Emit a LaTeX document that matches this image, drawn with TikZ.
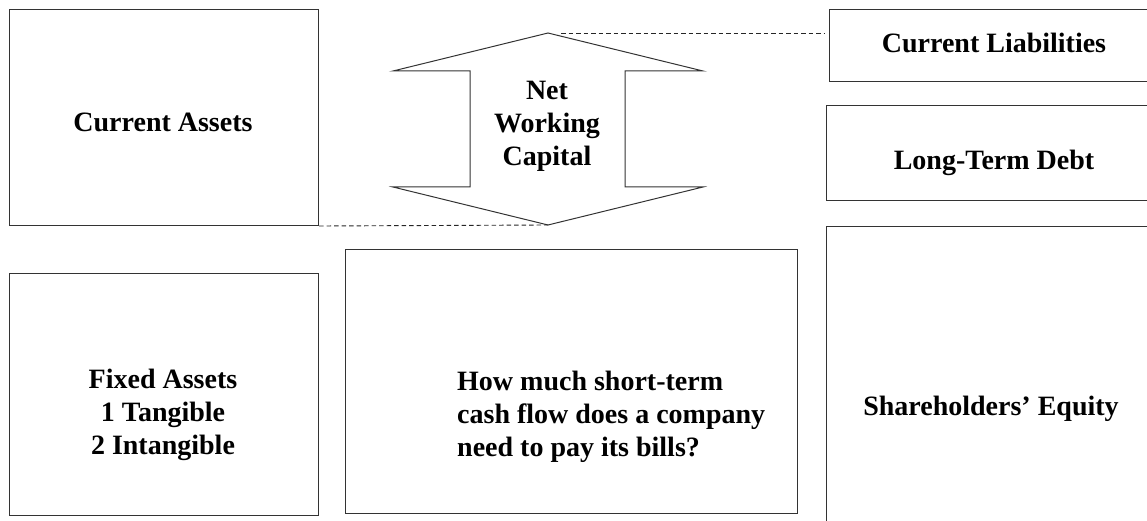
\documentclass[tikz,border=0pt]{standalone}
\usepackage{fontspec}
\setmainfont{Liberation Serif}
\begin{document}
\begin{tikzpicture}[x=1pt,y=-1pt,
  box/.style={draw=black!80, line width=1pt, anchor=north west, inner sep=0pt},
  lbl/.style={font=\fontsize{28}{33}\selectfont\bfseries, align=center, inner sep=0pt},
  dashline/.style={draw=black!85, line width=0.9pt, dash pattern=on 4.5pt off 3pt},
  arrowshape/.style={draw=black!80, line width=1pt, line join=miter}]
\useasboundingbox (0,0) rectangle (1147,521);

% boxes
\node[box, minimum width=309pt, minimum height=216pt] (CA) at (9,9) {};
\node[box, minimum width=309pt, minimum height=242pt] (FA) at (9,273) {};
\node[box, minimum width=452pt, minimum height=264pt] (MID) at (345,249) {};
\node[box, minimum width=340pt, minimum height=72pt] (CL) at (829,9) {};
\node[box, minimum width=340pt, minimum height=95pt] (LTD) at (826,105) {};
\node[box, minimum width=340pt, minimum height=330pt] (SE) at (826,226) {};

% double arrow
\coordinate (Ttip) at (548,33);
\coordinate (Btip) at (548,225);
\draw[arrowshape] (Ttip) -- (703,71) -- (625,71) -- (625,187) -- (703,187) -- (Btip)
  -- (393,187) -- (470,187) -- (470,71) -- (393,71) -- cycle;

% dashed connectors
\coordinate (Tstart) at (561,33);
\coordinate (Tend) at (825,33);
\draw[dashline] (Tstart) -- (Tend);
\draw[dashline] (CA.south east) -- (Btip);

% labels
\node[lbl, anchor=base] (tCA) at (163,132) {Current Assets};
\node[lbl] (tNWC) at (547,126) {Net\\Working\\Capital};
\node[lbl] (tFA) at (163,415) {Fixed Assets\\1 Tangible\\2 Intangible};
\node[lbl, align=left, anchor=west] (tMID) at (457,417) {How much short-term\\cash flow does a company\\need to pay its bills?};
\node[lbl, anchor=base] (tCL) at (994,53) {Current Liabilities};
\node[lbl, anchor=base] (tLTD) at (994,170) {Long-Term Debt};
\node[lbl, anchor=base] (tSE) at (991,415) {Shareholders’ Equity};
\end{tikzpicture}
\end{document}
